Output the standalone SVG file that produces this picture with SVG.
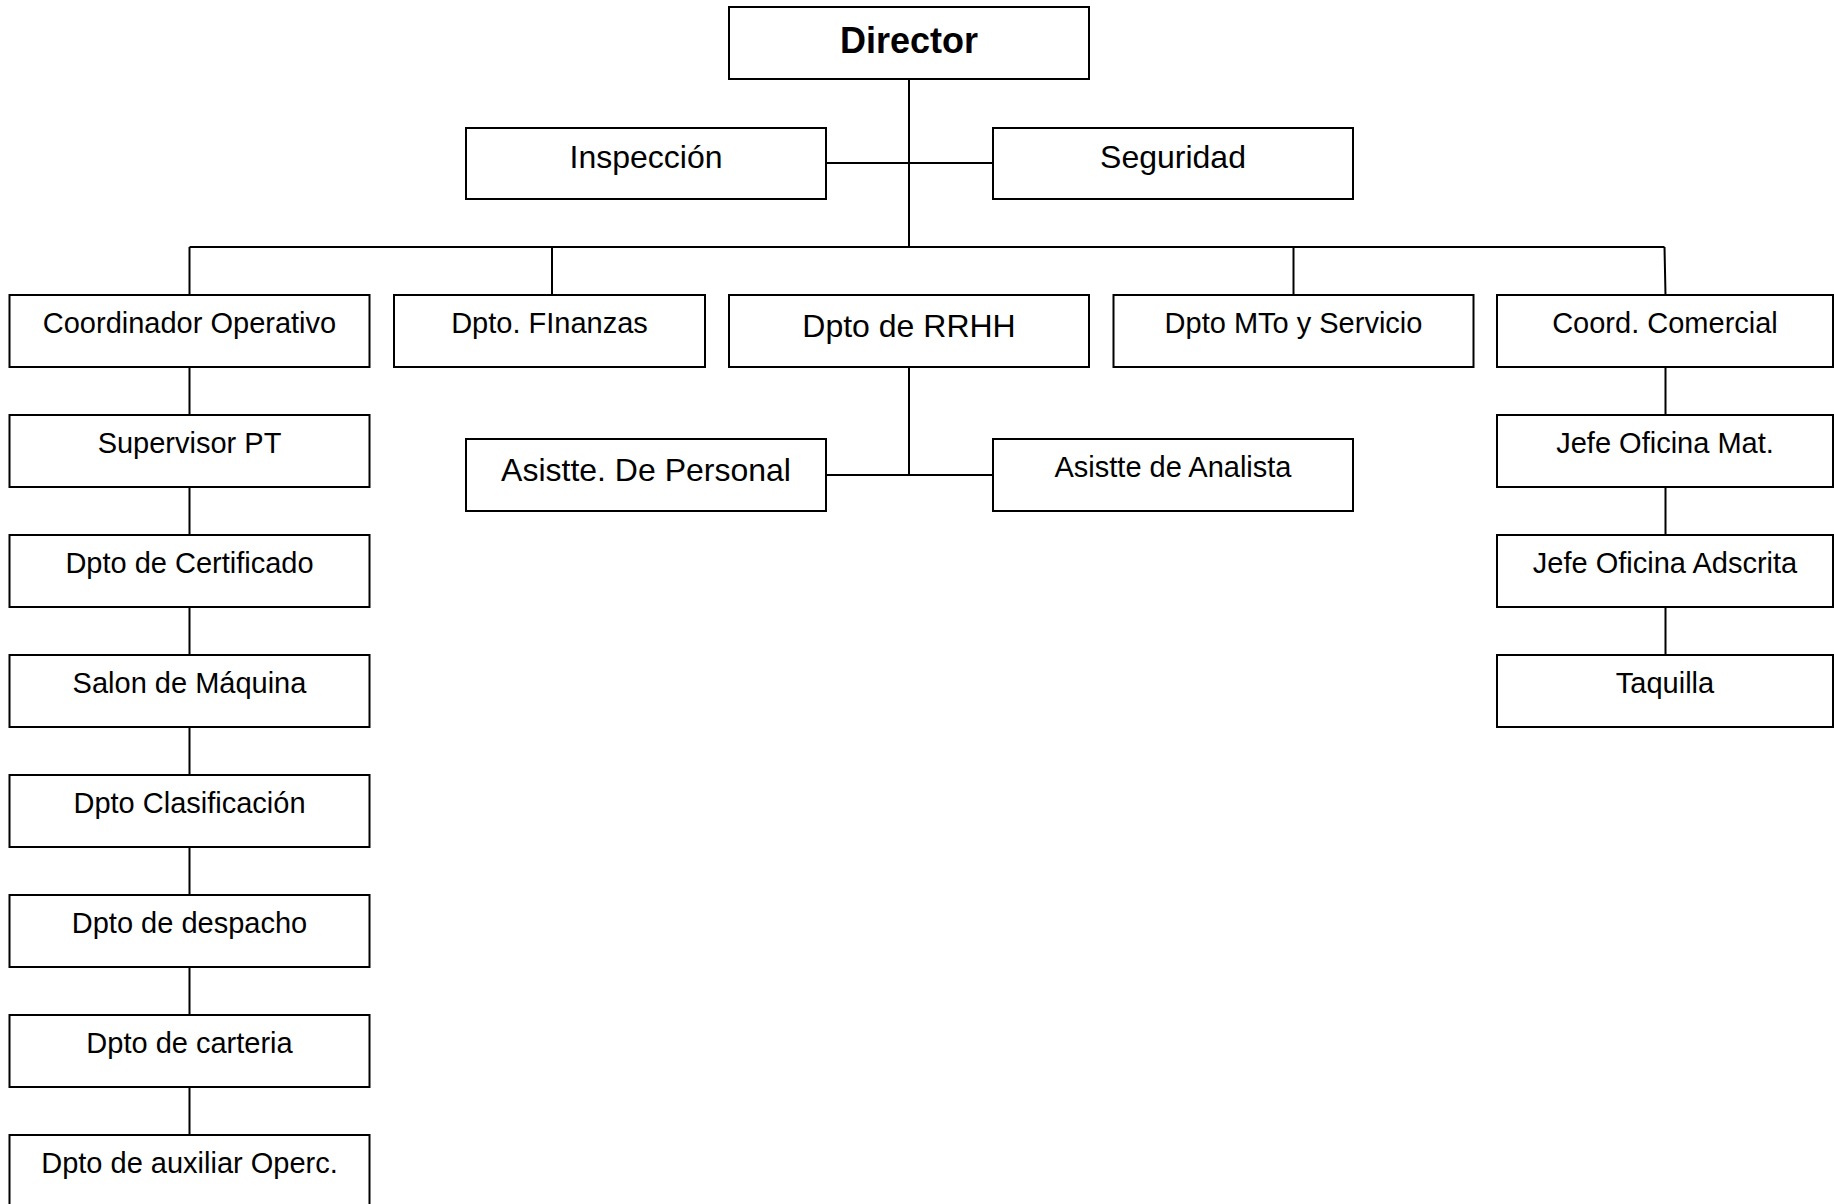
<svg xmlns="http://www.w3.org/2000/svg" width="1834" height="1204" viewBox="0 0 1834 1204">
<style>
.box{fill:#fff;stroke:#000;stroke-width:2}
.t{font-family:"Liberation Sans",Arial,sans-serif;font-size:29px;text-anchor:middle;fill:#000}
.tl{font-size:32px}
.tb{font-size:36px;font-weight:bold}
.c{stroke:#000;stroke-width:2;fill:none}
</style>
<g id="connectors">
<path class="c" d="M909,79 V247"/>
<path class="c" d="M826,163 H993"/>
<path class="c" d="M189.5,247 H1664.5"/>
<path class="c" d="M189.5,247 V295"/>
<path class="c" d="M552,247 V295"/>
<path class="c" d="M1293.5,247 V295"/>
<path class="c" d="M1664.5,247 L1665.5,295"/>
<path class="c" d="M909,367 V476"/>
<path class="c" d="M826,475 H993"/>
<path class="c" d="M189.5,367 V415 M189.5,487 V535 M189.5,607 V655 M189.5,727 V775 M189.5,847 V895 M189.5,967 V1015 M189.5,1087 V1135"/>
<path class="c" d="M1665.5,367 V415 M1665.5,487 V535 M1665.5,607 V655"/>
</g>
<g id="director"><rect class="box" x="729" y="7" width="360" height="72"/><text class="t tb" x="909" y="53">Director</text></g>
<g id="inspeccion"><rect class="box" x="466" y="128" width="360" height="71"/><text class="t tl" x="646" y="168">Inspección</text></g>
<g id="seguridad"><rect class="box" x="993" y="128" width="360" height="71"/><text class="t tl" x="1173" y="168">Seguridad</text></g>
<g id="coord-operativo"><rect class="box" x="9.5" y="295" width="360" height="72"/><text class="t" x="189.5" y="333">Coordinador Operativo</text></g>
<g id="finanzas"><rect class="box" x="394" y="295" width="311" height="72"/><text class="t" x="549.5" y="333">Dpto. FInanzas</text></g>
<g id="rrhh"><rect class="box" x="729" y="295" width="360" height="72"/><text class="t tl" x="909" y="337">Dpto de RRHH</text></g>
<g id="mto"><rect class="box" x="1113.5" y="295" width="360" height="72"/><text class="t" x="1293.5" y="333">Dpto MTo y Servicio</text></g>
<g id="coord-comercial"><rect class="box" x="1497" y="295" width="336" height="72"/><text class="t" x="1665" y="333">Coord. Comercial</text></g>
<g id="asist-personal"><rect class="box" x="466" y="439" width="360" height="72"/><text class="t tl" x="646" y="481">Asistte. De Personal</text></g>
<g id="asist-analista"><rect class="box" x="993" y="439" width="360" height="72"/><text class="t" x="1173" y="477">Asistte de Analista</text></g>
<g id="supervisor"><rect class="box" x="9.5" y="415" width="360" height="72"/><text class="t" x="189.5" y="453">Supervisor PT</text></g>
<g id="certificado"><rect class="box" x="9.5" y="535" width="360" height="72"/><text class="t" x="189.5" y="573">Dpto de Certificado</text></g>
<g id="salon"><rect class="box" x="9.5" y="655" width="360" height="72"/><text class="t" x="189.5" y="693">Salon de Máquina</text></g>
<g id="clasificacion"><rect class="box" x="9.5" y="775" width="360" height="72"/><text class="t" x="189.5" y="813">Dpto Clasificación</text></g>
<g id="despacho"><rect class="box" x="9.5" y="895" width="360" height="72"/><text class="t" x="189.5" y="933">Dpto de despacho</text></g>
<g id="carteria"><rect class="box" x="9.5" y="1015" width="360" height="72"/><text class="t" x="189.5" y="1053">Dpto de carteria</text></g>
<g id="auxiliar"><rect class="box" x="9.5" y="1135" width="360" height="72"/><text class="t" x="189.5" y="1173">Dpto de auxiliar Operc.</text></g>
<g id="jefe-mat"><rect class="box" x="1497" y="415" width="336" height="72"/><text class="t" x="1665" y="453">Jefe Oficina Mat.</text></g>
<g id="jefe-adscrita"><rect class="box" x="1497" y="535" width="336" height="72"/><text class="t" x="1665" y="573">Jefe Oficina Adscrita</text></g>
<g id="taquilla"><rect class="box" x="1497" y="655" width="336" height="72"/><text class="t" x="1665" y="693">Taquilla</text></g>
</svg>
